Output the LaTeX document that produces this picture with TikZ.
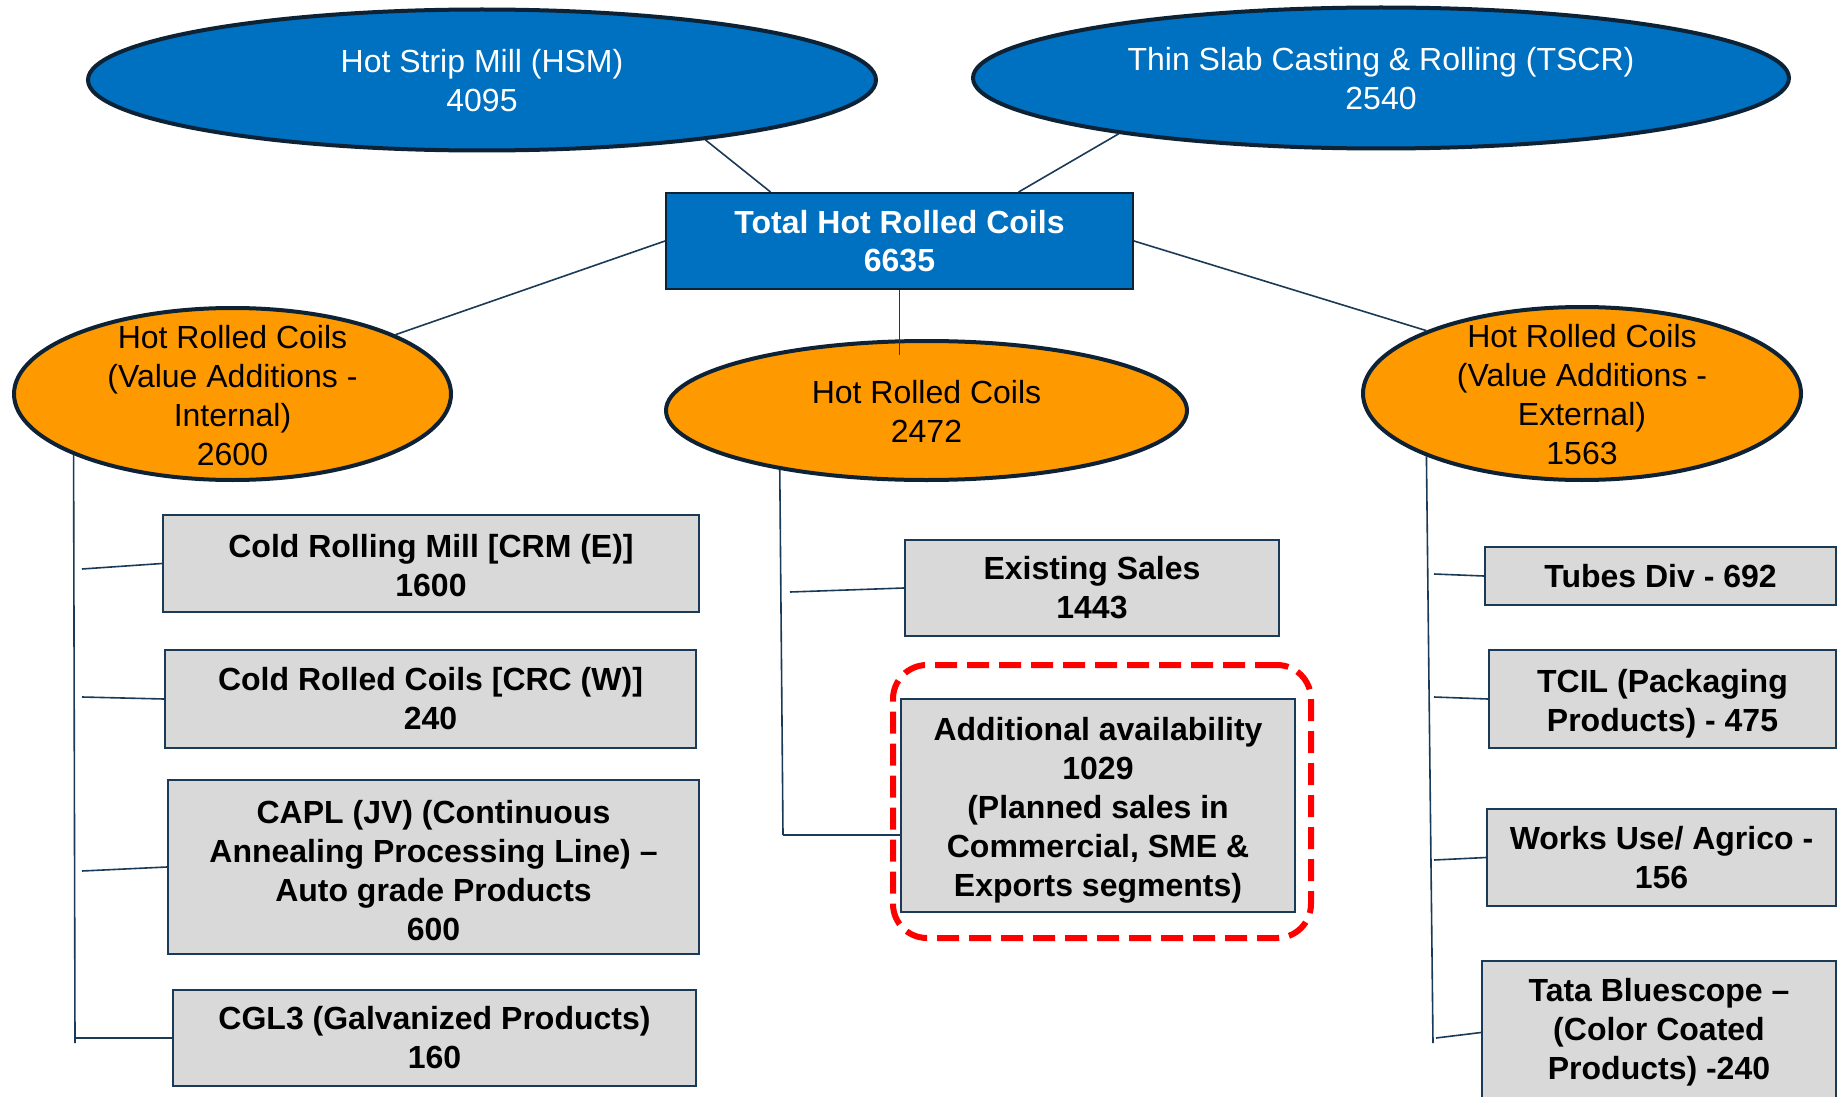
\documentclass[tikz,border=0pt]{standalone}
\usepackage{fontspec}
\setmainfont{Liberation Sans}
\usetikzlibrary{shapes.geometric,calc}
\definecolor{hblue}{HTML}{0070C0}
\definecolor{horange}{HTML}{FF9900}
\definecolor{hgray}{HTML}{D9D9D9}
\definecolor{hnavy}{HTML}{0E2236}
\definecolor{hline}{HTML}{1B3A57}
\definecolor{hred}{HTML}{FF0000}
\newcommand\txdn[1]{\rule{0pt}{#1}}
\begin{document}
\begin{tikzpicture}[x=0.5pt,y=-0.5pt,
  font=\fontsize{16pt}{19.5pt}\selectfont,
  blueell/.style={ellipse, draw=hnavy, line width=2pt, fill=hblue, inner sep=0pt},
  orell/.style={ellipse, draw=hnavy, line width=2pt, fill=horange, inner sep=0pt},
  ltxt/.style={align=center, inner sep=0pt},
  graybox/.style={rectangle, draw=hline, line width=1pt, fill=hgray, align=center, inner sep=0pt, font=\fontsize{16pt}{19.5pt}\selectfont\bfseries},
  conn/.style={draw=hline, line width=0.8pt},
  hilite/.style={rectangle, draw=hred, line width=3pt, rounded corners=17pt, dash pattern=on 11pt off 5pt, inner sep=0pt}
]
\useasboundingbox[fill=white] (0,0) rectangle (1843,1097);

% top ellipses
\node[blueell, minimum width=394pt, minimum height=70.5pt] (hsm) at (482,80) {};
\node[ltxt, text=white] (hsmt) at (482,81) {Hot Strip Mill (HSM)\\4095};
\node[blueell, minimum width=408pt, minimum height=70.5pt] (tscr) at (1381,78) {};
\node[ltxt, text=white] (tscrt) at (1381,79) {Thin Slab Casting \& Rolling (TSCR)\\2540};

% total
\node[rectangle, draw=hnavy, line width=1pt, fill=hblue, text=white, align=center,
      minimum width=233.5pt, minimum height=48pt, inner sep=0pt,
      font=\fontsize{16pt}{19pt}\selectfont\bfseries] (total) at (899.5,241) {Total Hot Rolled Coils\\6635};

% orange ellipses
\node[orell, minimum width=218.5pt, minimum height=86pt] (hrcI) at (232.5,394) {};
\node[ltxt] (hrcIt) at (232.5,396) {Hot Rolled Coils\\(Value Additions -\\Internal)\\2600};
\node[orell, minimum width=260.5pt, minimum height=69.5pt] (hrcM) at (926.5,410.5) {};
\node[ltxt] (hrcMt) at (926.5,411) {Hot Rolled Coils\\2472};
\node[orell, minimum width=219pt, minimum height=86.5pt] (hrcE) at (1582,393.5) {};
\node[ltxt] (hrcEt) at (1582,395) {Hot Rolled Coils\\(Value Additions -\\External)\\1563};

% left boxes
\node[graybox, minimum width=268pt, minimum height=48.5pt] (crm) at (431,563.5) {\txdn{14pt}Cold Rolling Mill [CRM (E)]\\1600};
\node[graybox, minimum width=265.5pt, minimum height=49pt] (crc) at (430.5,699) {Cold Rolled Coils [CRC (W)]\\240};
\node[graybox, minimum width=265.5pt, minimum height=87pt] (capl) at (433.5,867) {\txdn{15.2pt}CAPL (JV) (Continuous\\Annealing Processing Line) –\\Auto grade Products\\600};
\node[graybox, minimum width=261.5pt, minimum height=48pt] (cgl) at (434.5,1038) {CGL3 (Galvanized Products)\\160};

% middle boxes
\node[graybox, minimum width=187pt, minimum height=48pt] (exist) at (1092,588) {Existing Sales\\1443};
\node[graybox, minimum width=197pt, minimum height=106.5pt] (addl) at (1098,805.5) {\txdn{16.4pt}Additional availability\\1029\\(Planned sales in\\Commercial, SME \&\\Exports segments)};

% right boxes
\node[graybox, minimum width=175.5pt, minimum height=29pt] (tubes) at (1660.5,576) {Tubes Div - 692};
\node[graybox, minimum width=173.5pt, minimum height=49pt] (tcil) at (1662.5,699) {\txdn{16.4pt}TCIL (Packaging\\Products) - 475};
\node[graybox, minimum width=174.5pt, minimum height=48.5pt] (works) at (1661.5,857.5) {Works Use/ Agrico -\\156};
\node[graybox, minimum width=177pt, minimum height=71.5pt] (tata) at (1659,1032.5) {Tata Bluescope –\\(Color Coated\\Products) -240};

% connectors top
\draw[conn] (hsm.-15) -- ($(total.north west)!0.225!(total.north east)$);
\draw[conn] (tscr.192.5) -- ($(total.north west)!0.754!(total.north east)$);
\draw[conn] (total.west) -- (hrcI.20.7);
\draw[conn] (total.east) -- (hrcE.158);
\coordinate (mtop) at (899.5,355);
\draw[conn] (total.south) -- (mtop);

% left tree
\coordinate (lbot) at (75,1043);
\coordinate (l1) at (82,569);
\coordinate (l2) at (82,697);
\coordinate (l3) at (82,871);
\coordinate (l4) at (75,1038);
\draw[conn] (hrcI.201.5) -- (lbot);
\draw[conn] (l1) -- (crm.west);
\draw[conn] (l2) -- (crc.west);
\draw[conn] (l3) -- (capl.west);
\draw[conn] (l4) -- (cgl.west);

% middle tree
\coordinate (mbot) at (783,835);
\coordinate (m1) at (790,592);
\draw[conn] (hrcM.202.5) -- (mbot);
\draw[conn] (m1) -- (exist.west);
\draw[conn] (mbot) -- (mbot -| addl.west);

% right tree
\coordinate (rbot) at (1433,1043);
\coordinate (r1) at (1434,574);
\coordinate (r2) at (1434,697);
\coordinate (r3) at (1434,860);
\coordinate (r4) at (1436,1038);
\draw[conn] (hrcE.202) -- (rbot);
\draw[conn] (r1) -- (tubes.west);
\draw[conn] (r2) -- (tcil.west);
\draw[conn] (r3) -- (works.west);
\draw[conn] (r4) -- (tata.west);

% red dashed highlight
\node[hilite, minimum width=209pt, minimum height=136.5pt] (hl) at (1102,801.5) {};
\end{tikzpicture}
\end{document}
